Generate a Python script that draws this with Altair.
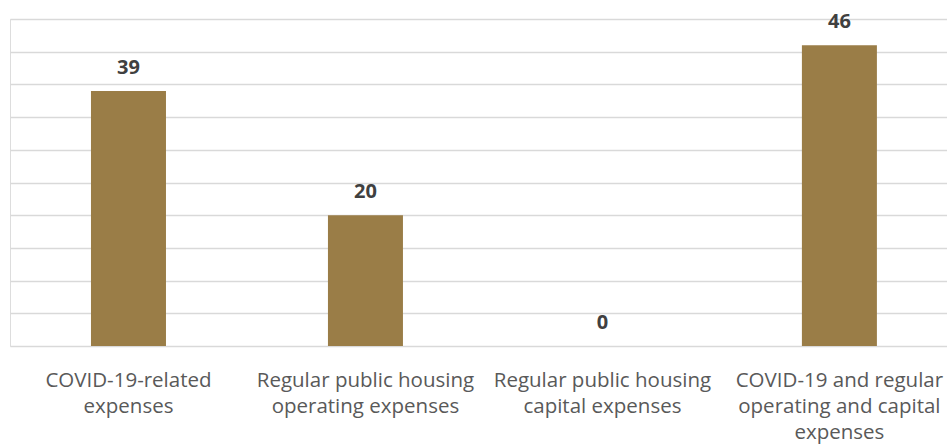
import altair as alt
import pandas as pd

categories = [
    "COVID-19-related|expenses",
    "Regular public housing|operating expenses",
    "Regular public housing|capital expenses",
    "COVID-19 and regular|operating and capital|expenses",
]
values = [39, 20, 0, 46]

df = pd.DataFrame({"category": categories, "value": values})

BAR = "#9A7D47"

x = alt.X(
    "category:N",
    sort=None,
    title=None,
    scale=alt.Scale(paddingInner=0.684, paddingOuter=0.319, align=0.536),
    axis=alt.Axis(
        labelExpr="split(datum.label, '|')",
        labelAngle=0,
        labelFont="Open Sans",
        labelFontSize=20.5,
        labelColor="#595959",
        labelLineHeight=26,
        labelPadding=40,
        labelBaseline="alphabetic",
        ticks=False,
        domain=False,
        labelLimit=400,
    ),
)
y = alt.Y(
    "value:Q",
    title=None,
    scale=alt.Scale(domain=[0, 50], nice=False),
    axis=alt.Axis(
        values=list(range(0, 55, 5)),
        labels=False,
        ticks=False,
        domain=False,
        grid=True,
        gridColor="#d9d9d9",
        gridWidth=1.5,
    ),
)

base = alt.Chart(df).encode(x=x, y=y)
bars = base.mark_bar(color=BAR, size=75)
text = base.mark_text(
    dy=-17, baseline="alphabetic", font="Open Sans", fontWeight="bold", fontSize=20, color="#404040"
).encode(text="value:Q")

chart = (
    (bars + text)
    .properties(width=937, height=327, autosize=alt.AutoSizeParams(type="none"), padding={"left": 10, "top": 19, "right": 0, "bottom": 99})
    .configure_view(stroke=None)
    .configure(background="white")
)

chart.save("out.html", embed_options={"renderer": "svg", "actions": False})
